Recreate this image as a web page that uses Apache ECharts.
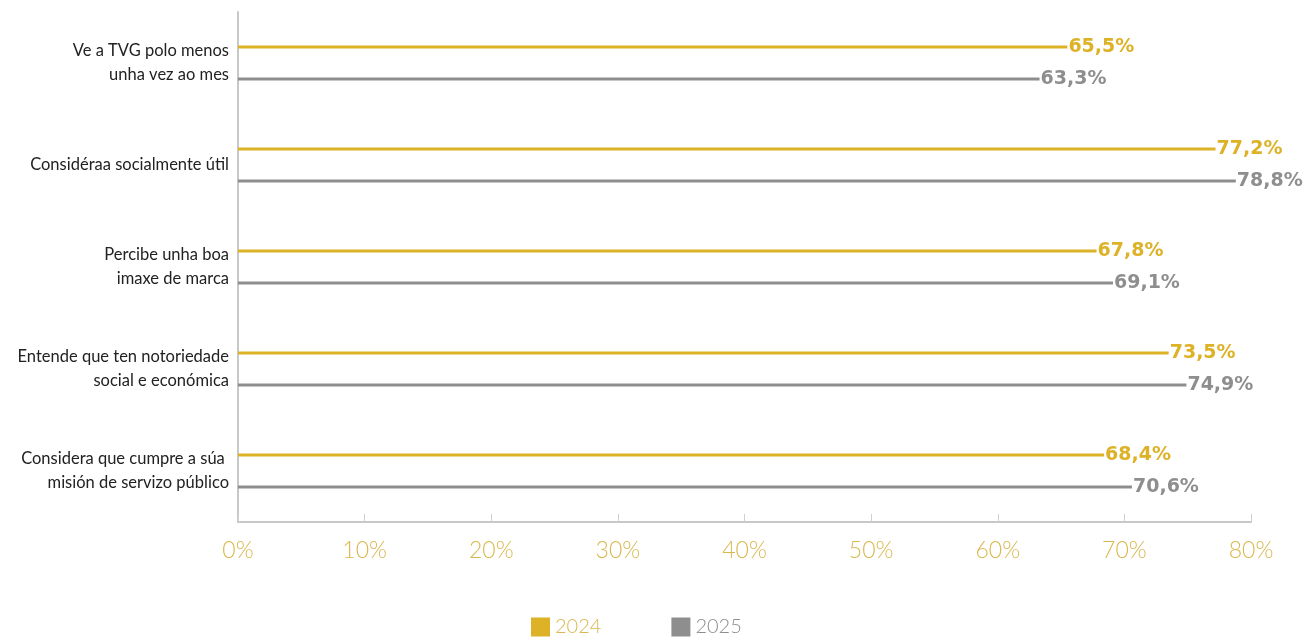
<!DOCTYPE html>
<html>
<head>
<meta charset="utf-8">
<script src="https://cdn.jsdelivr.net/npm/echarts@6/dist/echarts.min.js"></script>
<style>
html,body{margin:0;padding:0;background:#fff;}
#c{width:1313px;height:637px;}
</style>
</head>
<body>
<div id="c"></div>
<script>
const categories = [
  "Ve a TVG polo menos\nunha vez ao mes",
  "Considéraa socialmente útil",
  "Percibe unha boa\nimaxe de marca",
  "Entende que ten notoriedade\nsocial e económica",
  "Considera que cumpre a súa \nmisión de servizo público"
];
const values2024 = [65.5, 77.2, 67.8, 73.5, 68.4];
const values2025 = [63.3, 78.8, 69.1, 74.9, 70.6];
const seriesNames = ["2024", "2025"];
const xTicks = [0, 10, 20, 30, 40, 50, 60, 70, 80];

const GOLD = "#DDB227";
const GRAY = "#8E8E8E";
const FONT = "Lato, 'Open Sans', sans-serif";
const BOLDFONT = "'DejaVu Sans', sans-serif";

const fmt = v => v.toFixed(1).replace('.', ',') + '%';

const chart = echarts.init(document.getElementById('c'), null, {renderer: 'canvas'});
chart.setOption({
  animation: false,
  backgroundColor: '#fff',
  grid: {left: 238, right: 62, top: 12, bottom: 115, containLabel: false},
  xAxis: {
    type: 'value',
    min: xTicks[0],
    max: xTicks[xTicks.length - 1],
    interval: 10,
    axisLine: {show: true, lineStyle: {color: '#C8C8C8', width: 2}},
    axisTick: {show: true, inside: true, length: 8, lineStyle: {color: '#D0D0D0', width: 1}},
    splitLine: {show: false},
    axisLabel: {
      formatter: v => v + '%',
      color: '#D9B84E',
      fontFamily: FONT,
      fontWeight: 300,
      fontSize: 23,
      margin: 17
    }
  },
  yAxis: {
    type: 'category',
    data: categories,
    inverse: true,
    axisLine: {show: true, lineStyle: {color: '#C8C8C8', width: 2}},
    axisTick: {show: false},
    axisLabel: {
      color: '#222',
      fontFamily: FONT,
      fontSize: 16.5,
      lineHeight: 24,
      margin: 9,
      align: 'right'
    }
  },
  legend: {
    top: 617,
    left: 531,
    padding: 0,
    itemWidth: 19,
    itemHeight: 19,
    itemGap: 70,
    icon: 'rect',
    data: [
      {name: seriesNames[0], textStyle: {color: '#D9B84E'}},
      {name: seriesNames[1], textStyle: {color: '#8E8E8E'}}
    ],
    textStyle: {fontFamily: FONT, fontWeight: 300, fontSize: 20}
  },
  series: [
    {
      name: seriesNames[0],
      type: 'bar',
      data: values2024,
      barWidth: 3,
      barGap: '967%',
      itemStyle: {color: GOLD},
      label: {
        show: true, position: 'right', distance: 1,
        formatter: p => fmt(p.value),
        color: GOLD, fontFamily: BOLDFONT, fontWeight: 'bold', fontSize: 19
      }
    },
    {
      name: seriesNames[1],
      type: 'bar',
      data: values2025,
      barWidth: 3,
      itemStyle: {color: GRAY},
      label: {
        show: true, position: 'right', distance: 1,
        formatter: p => fmt(p.value),
        color: GRAY, fontFamily: BOLDFONT, fontWeight: 'bold', fontSize: 19
      }
    }
  ]
});
</script>
</body>
</html>
